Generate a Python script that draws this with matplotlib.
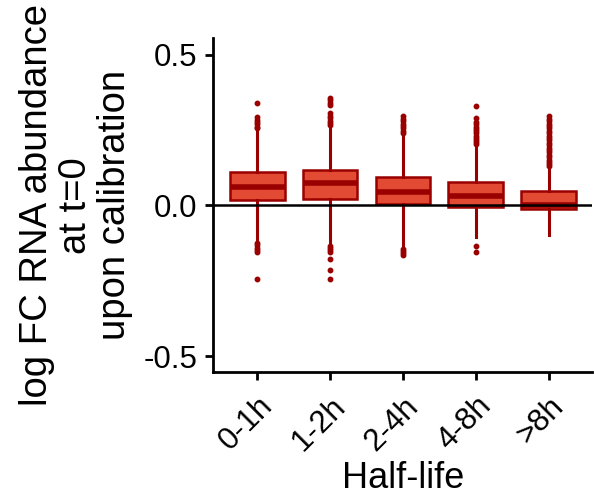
import matplotlib
matplotlib.use("Agg")
import matplotlib.pyplot as plt
from matplotlib.transforms import ScaledTranslation

plt.rcParams['font.family'] = ['Liberation Sans', 'DejaVu Sans']

categories = ["0-1h", "1-2h", "2-4h", "4-8h", ">8h"]
q1 = [0.017, 0.020, 0.005, -0.005, -0.012]
med = [0.062, 0.074, 0.046, 0.031, 0.003]
q3 = [0.111, 0.117, 0.093, 0.078, 0.047]
whislo = [-0.120, -0.131, -0.140, -0.105, -0.098]
whishi = [0.250, 0.262, 0.235, 0.197, 0.125]
outliers = [
    [0.340, 0.294, 0.285, 0.278, 0.270, 0.262, 0.256,
     -0.125, -0.132, -0.140, -0.147, -0.154, -0.243],
    [0.358, 0.349, 0.340, 0.333, 0.306, 0.298, 0.290, 0.282, 0.275, 0.267,
     -0.135, -0.142, -0.148, -0.153, -0.178, -0.215, -0.243],
    [0.296, 0.288, 0.280, 0.272, 0.264, 0.256, 0.248, 0.240,
     -0.145, -0.152, -0.159, -0.166],
    [0.329, 0.289, 0.277, 0.270, 0.262, 0.255, 0.247, 0.240, 0.232, 0.225,
     0.217, 0.210, 0.203, -0.133, -0.155],
    [0.296, 0.288, 0.280, 0.272, 0.264, 0.256, 0.248, 0.240, 0.232, 0.224,
     0.216, 0.208, 0.200, 0.192, 0.184, 0.176, 0.168, 0.160, 0.152, 0.144,
     0.137, 0.131],
]

fill = '#E34A33'
edge = '#990000'

fig = plt.figure(figsize=(5.94, 4.97), dpi=100)
ax = fig.add_axes([0.3594, 0.2509, 0.9973 - 0.3594, 0.9235 - 0.2509])

stats = []
for i in range(len(categories)):
    stats.append(dict(q1=q1[i], med=med[i], q3=q3[i], whislo=whislo[i],
                      whishi=whishi[i], fliers=outliers[i], label=categories[i]))

ax.bxp(stats, positions=range(1, len(categories) + 1), widths=0.75,
       patch_artist=True, showcaps=False,
       boxprops=dict(facecolor=fill, edgecolor=edge, linewidth=1.8),
       whiskerprops=dict(color=edge, linewidth=2.2),
       medianprops=dict(color=edge, linewidth=4.0, solid_capstyle='butt'),
       flierprops=dict(marker='o', markerfacecolor=edge, markeredgecolor=edge,
                       markersize=3.2, linestyle='none'))

ax.axhline(0, color='black', linewidth=1.8, zorder=5)

ax.set_xlim(0.4, 5.6)
ax.set_ylim(-0.554, 0.556)
ax.set_yticks([-0.5, 0.0, 0.5])
ax.set_yticklabels(['-0.5', '0.0', '0.5'])
ax.set_xticks(range(1, len(categories) + 1))
ax.set_xticklabels(categories, rotation=45, ha='right', va='top',
                   rotation_mode='anchor')

offset = ScaledTranslation(7 / 100, 1 / 100, fig.dpi_scale_trans)
for lab in ax.get_xticklabels():
    lab.set_transform(lab.get_transform() + offset)

for s in ['top', 'right']:
    ax.spines[s].set_visible(False)
for s in ['left', 'bottom']:
    ax.spines[s].set_linewidth(2.0)
    ax.spines[s].set_color('black')

ax.tick_params(axis='both', which='major', length=5.5, width=2.0,
               labelsize=22.5, color='black', labelcolor='black')
ax.tick_params(axis='y', pad=6)
ax.tick_params(axis='x', pad=8)

ax.set_ylabel('log FC RNA abundance\nat t=0\nupon calibration',
              fontsize=27.5, linespacing=1.1, labelpad=8)
ax.set_xlabel('Half-life', fontsize=26, labelpad=3.5)

fig.savefig('out.png', dpi=100)
